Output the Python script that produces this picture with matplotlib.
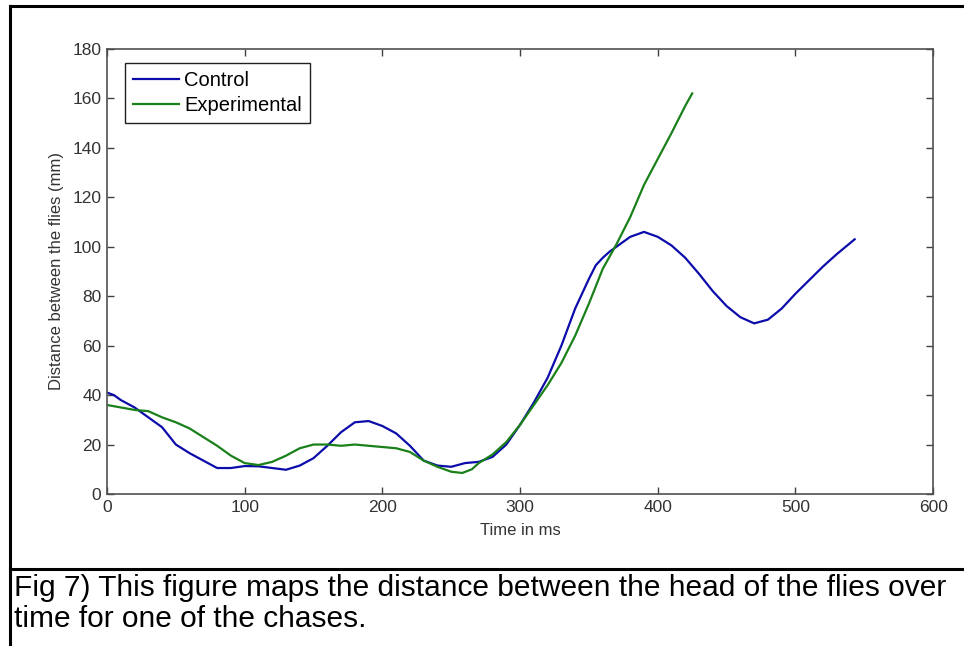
#distance between the flies over one chase, control vs experimental
import matplotlib
matplotlib.use('Agg')
import matplotlib.pyplot as plt
from matplotlib.lines import Line2D

plt.rcParams['font.family'] = ['Liberation Sans', 'DejaVu Sans']

# control run (blue)
t_control = [0, 5, 10, 20, 30, 40, 50, 60, 70, 80, 90, 100, 110, 120, 130, 140,
             150, 160, 170, 180, 190, 200, 210, 220, 230, 240, 250, 260, 270, 280,
             290, 300, 310, 320, 330, 340, 350, 355, 360, 365, 370, 380, 390, 400,
             410, 420, 430, 440, 450, 460, 470, 480, 490, 500, 510, 520, 530, 543]
d_control = [41, 40, 38, 35, 31, 27, 20, 16.5, 13.5, 10.5, 10.5, 11.3, 11.2, 10.5,
             9.8, 11.5, 14.5, 19.5, 25, 29, 29.5, 27.5, 24.5, 19.5, 13.5, 11.5, 11,
             12.5, 13, 15, 20, 28, 37, 47, 60, 75, 87, 92.5, 95.5, 98, 100, 104, 106,
             104, 100.5, 95.5, 89, 82, 76, 71.5, 69, 70.5, 75, 81, 86.5, 92, 97, 103]

# experimental run (green)
t_exp = [0, 10, 20, 30, 40, 50, 60, 70, 80, 90, 100, 110, 120, 130, 140, 150, 160,
         170, 180, 190, 200, 210, 220, 230, 240, 250, 258, 265, 270, 280, 290, 300,
         310, 320, 330, 340, 350, 360, 370, 380, 390, 400, 410, 420, 425]
d_exp = [36, 35, 34, 33.5, 31, 29, 26.5, 23, 19.5, 15.5, 12.5, 11.7, 13, 15.5, 18.5,
         20, 20, 19.5, 20, 19.5, 19, 18.5, 17, 13.5, 11, 9, 8.5, 10, 12.5, 16, 21, 28,
         36, 44, 53, 64, 77, 91, 101, 112, 125, 135.5, 146, 157, 162]

xticks = [0, 100, 200, 300, 400, 500, 600]
yticks = [0, 20, 40, 60, 80, 100, 120, 140, 160, 180]

caption = ('Fig 7) This figure maps the distance between the head of the flies over\n'
           'time for one of the chases.')

fig = plt.figure(figsize=(9.64, 6.46), dpi=100)
ax = fig.add_axes([0.111, 0.2353, 0.857, 0.689])

ax.plot(t_control, d_control, color='#0c0caa', lw=1.6, label='Control')
ax.plot(t_exp, d_exp, color='#1a801a', lw=1.6, label='Experimental')

ax.set_xlim(0, 600)
ax.set_ylim(0, 180)
ax.set_xticks(xticks)
ax.set_yticks(yticks)
ax.tick_params(direction='in', length=5, width=1, colors='#404040',
               labelcolor='#333333', labelsize=12.5, top=True, right=True, pad=4)
for s in ax.spines.values():
    s.set_color('#505050')
    s.set_linewidth(1.2)

ax.set_xlabel('Time in ms', fontsize=12, color='#333333', labelpad=6)
ax.set_ylabel('Distance between the flies (mm)', fontsize=12, color='#333333', labelpad=6)

leg = ax.legend(loc='upper left', bbox_to_anchor=(0.0218, 0.9685), borderaxespad=0,
                fancybox=False, framealpha=1, edgecolor='#202020', fontsize=14.5,
                handlelength=2.3, handletextpad=0.25, labelspacing=0.3,
                borderpad=0.4)
leg.get_frame().set_linewidth(1.0)

# outer frame and caption box
fig.add_artist(Line2D([0.0104, 0.0104], [0, 0.9907], color='black', lw=2.2))
fig.add_artist(Line2D([0.0104, 1.0], [0.9907, 0.9907], color='black', lw=2.2))
fig.add_artist(Line2D([0.0104, 1.0], [0.119, 0.119], color='black', lw=2.2))
fig.text(0.015, 0.111, caption, fontsize=21.5, va='top', ha='left', linespacing=1.12)

fig.savefig('out.png', dpi=100)
